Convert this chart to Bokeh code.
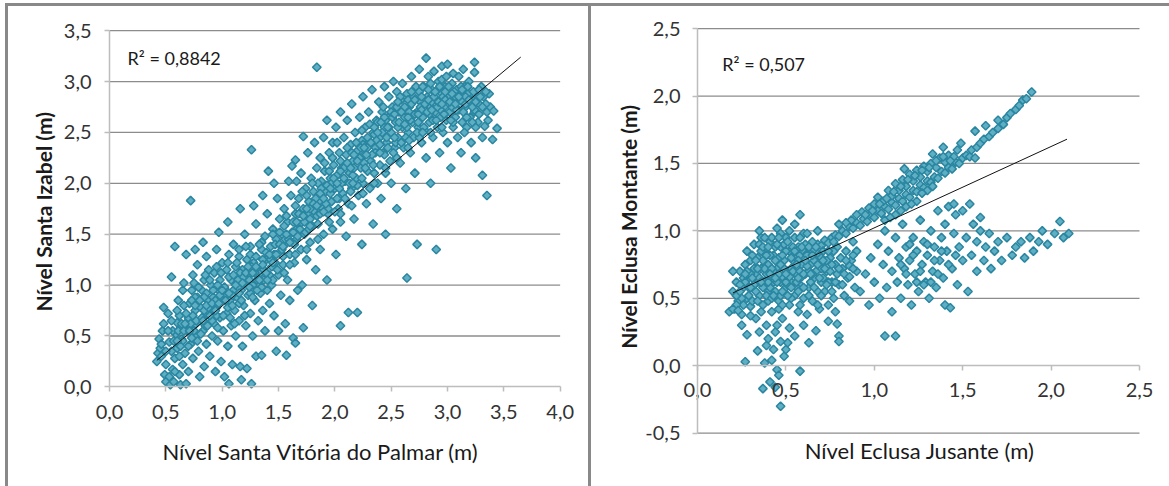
import numpy as np
from bokeh.plotting import figure
from bokeh.layouts import row
from bokeh.models import Label, CustomJSTickFormatter, FixedTicker, Range1d
from bokeh.embed import file_html
from bokeh.resources import INLINE

FONT = "Lato"

# ---------------- Left chart: Santa Vitória do Palmar (x) vs Santa Izabel (y)
left_xlabel = "Nível Santa Vitória do Palmar (m)"
left_ylabel = "Nível Santa Izabel (m)"
left_r2 = "R² = 0,8842"
left_xticks = [0.0, 0.5, 1.0, 1.5, 2.0, 2.5, 3.0, 3.5, 4.0]
left_yticks = [0.0, 0.5, 1.0, 1.5, 2.0, 2.5, 3.0, 3.5]
left_trend_x = [0.42, 3.65]
left_trend_y = [0.26, 3.24]
left_points = [
    (0.42,0.25),(0.43,0.33),(0.44,0.47),(0.45,0.38),(0.46,0.30),(0.47,0.55),(0.48,0.62),(0.49,0.12),
    (0.50,0.05),(0.50,0.22),(0.52,0.72),(0.53,0.44),(0.48,0.78),(0.55,1.08),(0.56,0.17),(0.54,0.02),(0.58,1.38),
    (0.57,0.05),(0.58,0.28),(0.59,0.52),(0.60,0.63),(0.60,0.38),(0.61,0.85),(0.62,0.12),(0.62,0.70),(0.63,0.02),
    (0.64,0.47),(0.65,0.95),(0.65,0.22),(0.66,1.02),(0.63,0.58),(0.67,0.33),(0.60,0.75),(0.68,1.30),
    (0.68,0.03),(0.69,0.55),(0.70,0.68),(0.70,0.15),(0.71,0.82),(0.72,0.42),(0.73,0.95),(0.74,0.28),(0.74,1.10),
    (0.75,0.60),(0.76,0.75),(0.77,0.50),(0.78,0.88),(0.78,1.20),(0.79,0.35),(0.80,0.65),(0.76,1.35),(0.80,0.10),(0.72,1.83),
    (0.81,0.78),(0.82,0.95),(0.83,0.55),(0.84,1.05),(0.84,0.20),(0.85,0.70),(0.86,0.42),(0.87,0.85),(0.88,1.15),
    (0.88,0.62),(0.89,0.30),(0.90,1.00),(0.86,1.28),(0.90,0.75),(0.83,1.42),(0.91,0.50),
    (0.92,0.88),(0.93,1.12),(0.93,0.62),(0.94,0.15),(0.95,0.78),(0.95,1.35),(0.96,0.45),(0.97,0.95),(0.98,1.05),
    (0.98,0.68),(0.99,0.25),(1.00,0.85),(1.00,1.22),(0.97,1.52),(1.01,0.55),(1.02,0.10),
    (1.03,0.95),(1.04,0.72),(1.04,1.15),(1.05,0.40),(1.06,1.30),(1.06,0.03),(1.07,0.85),(1.08,1.05),(1.08,0.60),
    (1.09,0.22),(1.10,0.95),(1.10,1.40),(1.11,0.75),(1.05,1.62),(1.12,0.50),(1.12,1.18),
    (1.13,0.88),(1.14,1.05),(1.15,0.65),(1.15,1.28),(1.16,0.20),(1.17,0.95),(1.17,0.07),(1.18,1.15),(1.18,0.40),
    (1.19,0.80),(1.20,1.02),(1.20,1.50),(1.21,0.60),(1.16,1.75),(1.22,1.25),(1.22,0.18),
    (1.23,0.90),(1.24,1.10),(1.25,0.72),(1.25,1.38),(1.26,0.03),(1.26,2.33),(1.27,0.50),(1.27,1.00),(1.28,1.22),
    (1.29,0.85),(1.30,1.60),(1.30,0.30),(1.31,1.05),(1.28,1.78),(1.32,0.65),
    (1.33,1.15),(1.34,0.92),(1.35,1.35),(1.35,0.31),(1.36,0.75),(1.37,1.05),(1.38,1.48),(1.38,0.55),(1.39,1.25),
    (1.40,0.95),(1.40,1.70),(1.41,2.12),(1.42,1.10),(1.42,0.82),(1.36,1.88),
    (1.43,1.38),(1.44,1.00),(1.45,1.55),(1.46,0.70),(1.47,1.22),(1.48,0.35),(1.48,1.45),(1.49,1.85),(1.50,1.10),
    (1.50,0.55),(1.51,1.65),(1.52,0.90),(1.46,2.00),(1.52,1.32),
    (1.53,1.50),(1.54,1.20),(1.55,1.75),(1.56,0.62),(1.56,1.40),(1.57,0.31),(1.58,1.05),(1.58,1.62),(1.59,2.02),
    (1.60,1.30),(1.60,0.85),(1.61,1.88),(1.62,2.17),(1.62,1.52),(1.63,0.48),
    (1.64,1.22),(1.65,2.23),(1.65,1.70),(1.65,0.43),(1.66,2.02),(1.66,1.45),(1.67,0.95),(1.68,1.85),(1.69,1.60),
    (1.70,1.35),(1.70,2.10),(1.71,1.00),(1.72,0.58),(1.72,2.46),(1.72,1.75),(1.73,1.50),
    (1.74,1.95),(1.75,1.25),(1.76,1.65),(1.76,2.30),(1.77,1.82),(1.78,1.42),(1.79,2.05),(1.80,1.58),(1.80,0.80),
    (1.81,1.92),(1.82,2.40),(1.82,1.72),(1.83,1.15),(1.84,3.14),(1.84,2.15),
    (1.85,1.60),(1.86,1.88),(1.87,2.25),(1.87,1.35),(1.88,2.02),(1.89,1.75),(1.90,2.45),(1.90,1.50),(1.91,2.12),
    (1.92,1.92),(1.93,1.05),(1.93,2.62),(1.94,1.70),(1.95,2.30),
    (1.96,2.05),(1.97,1.82),(1.98,2.40),(1.98,1.55),(1.99,2.18),(2.00,1.95),(2.01,2.55),(2.01,1.30),(2.02,2.08),
    (2.03,1.75),(2.04,2.30),(2.05,0.60),(2.05,2.70),(2.05,1.62),
    (2.06,2.15),(2.07,1.90),(2.08,2.45),(2.09,2.02),(2.10,1.48),(2.10,2.28),(2.11,2.62),(2.12,0.73),(2.12,1.80),
    (2.13,2.10),(2.14,2.38),(2.15,1.95),(2.15,2.78),
    (2.16,2.22),(2.17,1.65),(2.18,2.50),(2.19,2.05),(2.20,2.32),(2.20,0.73),(2.21,1.88),(2.22,2.65),(2.23,2.15),
    (2.24,1.40),(2.24,2.42),(2.25,2.00),(2.25,2.85),
    (2.26,2.28),(2.27,2.55),(2.28,1.80),(2.29,2.12),(2.30,2.70),(2.30,2.40),(2.31,1.95),(2.32,2.22),(2.33,2.92),
    (2.34,2.50),(2.34,1.60),(2.35,2.10),
    (2.36,2.35),(2.37,2.62),(2.38,2.00),(2.39,2.80),(2.40,2.45),(2.40,2.18),(2.41,1.85),(2.42,2.70),(2.43,2.30),
    (2.44,2.95),(2.44,2.55),(2.45,1.50),(2.45,2.10),
    (2.46,2.40),(2.47,2.65),(2.48,2.85),(2.49,2.22),(2.50,2.50),(2.50,2.00),(2.51,2.75),(2.52,3.00),(2.53,2.35),
    (2.54,2.60),(2.55,1.75),(2.55,2.90),
    (2.56,2.45),(2.57,2.70),(2.58,2.20),(2.59,2.82),(2.60,2.55),(2.60,2.98),(2.61,2.35),(2.62,2.65),(2.63,1.95),
    (2.64,1.07),(2.64,2.88),(2.65,2.50),
    (2.66,2.75),(2.67,2.30),(2.68,3.05),(2.69,2.60),(2.70,2.85),(2.70,2.45),(2.71,2.10),(2.72,2.95),(2.73,1.40),
    (2.73,2.70),(2.74,2.55),(2.75,3.12),
    (2.76,2.80),(2.77,2.40),(2.78,2.65),(2.79,2.95),(2.81,3.23),(2.80,2.52),(2.81,2.25),(2.82,2.85),(2.83,3.05),
    (2.84,2.60),(2.85,2.75),(2.85,2.00),
    (2.86,2.92),(2.87,2.45),(2.88,3.10),(2.89,2.70),(2.90,1.35),(2.90,2.82),(2.91,2.55),(2.92,3.00),(2.93,2.30),
    (2.94,2.65),(2.95,2.88),(2.95,3.15),
    (2.96,2.50),(2.97,2.75),(2.98,2.95),(2.99,2.62),(3.00,3.17),(3.00,2.40),(3.01,2.85),(3.02,2.70),(3.03,2.15),
    (3.04,2.98),(3.05,2.55),(3.05,3.08),
    (3.06,2.80),(3.07,2.65),(3.08,2.92),(3.09,2.45),(3.10,3.05),(3.10,2.72),(3.11,2.85),(3.12,2.30),(3.13,2.60),
    (3.14,3.12),(3.15,2.95),
    (3.16,2.75),(3.17,2.55),(3.18,2.88),(3.19,3.00),(3.20,2.65),(3.21,2.40),(3.22,2.82),(3.24,3.19),(3.24,3.09),
    (3.24,2.70),(3.25,2.25),
    (3.26,2.90),(3.27,2.60),(3.28,2.78),(3.30,2.95),(3.31,2.45),(3.32,2.85),(3.33,2.56),(3.35,1.88),(3.35,2.70),
    (3.37,2.88),(3.38,2.75),(3.41,2.71),(3.44,2.54),(3.40,2.43),(3.31,2.08),
    # dense core
    (0.55,0.35),(0.56,0.55),(0.65,0.45),(0.64,0.62),(0.66,0.80),(0.75,0.55),(0.74,0.70),(0.76,0.88),(0.75,1.02),
    (0.85,0.60),(0.84,0.75),(0.86,0.92),(0.85,1.10),(0.95,0.70),(0.94,0.85),(0.96,1.00),(0.95,1.18),
    (1.05,0.78),(1.04,0.90),(1.06,1.08),(1.05,1.22),(1.15,0.82),(1.14,0.98),(1.16,1.12),(1.15,1.35),
    (1.25,0.92),(1.24,1.05),(1.26,1.18),(1.25,1.30),(1.35,0.98),(1.34,1.12),(1.36,1.25),(1.35,1.42),
    (1.45,1.05),(1.44,1.18),(1.46,1.30),(1.45,1.50),(1.55,1.12),(1.54,1.28),(1.56,1.45),(1.55,1.58),
    (1.65,1.30),(1.64,1.40),(1.66,1.55),(1.65,1.78),(1.75,1.35),(1.74,1.52),(1.76,1.70),(1.75,1.88),
    (1.85,1.45),(1.84,1.68),(1.86,1.82),(1.85,2.00),(1.95,1.62),(1.94,1.75),(1.96,1.90),(1.95,2.12),
    (2.05,1.70),(2.04,1.85),(2.06,2.00),(2.05,2.22),(2.15,1.78),(2.14,1.92),(2.16,2.08),(2.15,2.30),
    (2.25,1.90),(2.24,2.05),(2.26,2.20),(2.25,2.38),(2.35,2.00),(2.34,2.18),(2.36,2.30),(2.35,2.48),
    (2.45,2.15),(2.44,2.28),(2.46,2.45),(2.45,2.62),(2.55,2.25),(2.54,2.40),(2.56,2.55),(2.55,2.75),
    (2.65,2.35),(2.64,2.55),(2.66,2.70),(2.65,2.82),(2.75,2.45),(2.74,2.60),(2.76,2.75),(2.75,2.90),
    (2.85,2.50),(2.84,2.68),(2.86,2.80),(2.85,2.98),(2.95,2.55),(2.94,2.72),(2.96,2.85),(2.95,3.02),
    (3.05,2.60),(3.04,2.75),(3.06,2.90),(3.15,2.50),(3.14,2.70),(3.16,2.85),(3.25,2.55),(3.24,2.72),(3.26,2.88),
    (0.46,0.42),(0.50,0.35),(0.52,0.55),(0.55,0.65),(0.57,0.45),(0.58,0.15),(0.53,0.10),(0.61,0.55),
    (0.62,0.30),(0.66,0.55),(0.68,0.72),(0.70,0.40),(0.72,0.62),(0.73,0.85),(0.77,0.65),(0.78,0.45),(0.79,0.98),
    (0.81,0.52),(0.82,0.68),(0.84,0.88),(0.87,0.60),(0.88,0.78),(0.89,1.05),(0.91,0.65),(0.92,0.95),(0.96,0.58),
    (0.98,0.90),(0.99,1.12),(1.01,0.70),(1.02,0.98),(1.07,0.68),(1.09,0.90),(1.10,1.10),(1.11,0.62),(1.13,1.22),
    (1.17,0.85),(1.19,1.08),(1.20,0.70),(1.21,1.38),(1.23,1.18),(1.27,0.88),(1.29,1.12),(1.30,1.28),(1.31,0.95),
    (1.33,1.40),(1.37,1.15),(1.39,1.32),(1.40,1.05),(1.43,1.25),(1.47,1.40),(1.49,1.15),(1.51,1.52),(1.53,1.35),
    (1.57,1.68),(1.59,1.45),(1.60,1.20),(1.63,1.62),(1.67,1.48),(1.68,1.70),(1.71,1.92),(1.73,1.62),(1.77,1.55),
    (1.78,1.75),(1.80,2.00),(1.83,1.85),(1.87,1.70),(1.88,1.95),(1.91,2.20),(1.92,1.80),(1.97,2.00),(1.98,2.25),
    (2.00,1.72),(2.02,2.40),(2.04,1.95),(2.08,2.15),(2.09,1.85),(2.11,2.35),(2.13,2.00),(2.17,2.15),(2.19,2.40),
    (2.20,1.98),(2.22,2.25),(2.24,2.52),(2.27,2.15),(2.29,2.35),(2.31,2.58),(2.33,2.28),(2.37,2.42),(2.38,2.60),
    (2.40,2.30),(2.42,2.50),(2.43,2.75),(2.47,2.35),(2.48,2.55),(2.51,2.65),(2.53,2.45),(2.57,2.60),(2.58,2.85),
    (2.59,2.40),(2.62,2.75),(2.63,2.45),(2.67,2.62),(2.68,2.90),(2.71,2.68),(2.73,2.50),(2.77,2.72),(2.78,2.95),
    (2.79,2.55),(2.82,2.70),(2.83,2.92),(2.87,2.62),(2.88,2.85),(2.91,2.75),(2.93,2.95),(2.97,2.68),(2.98,2.82),
    (2.99,3.05),(3.02,2.80),(3.03,2.62),(3.07,2.85),(3.08,2.72),(3.12,2.95),(3.13,2.80),(3.17,2.65),(3.18,2.95),
    (3.22,2.60),(3.23,2.90),(3.28,2.68),(3.29,2.85),(3.34,2.78),(3.36,2.62),
    (0.60,0.45),(0.63,0.40),(0.67,0.62),(0.71,0.55),(0.73,0.48),(0.76,0.80),(0.80,0.85),(0.83,0.65),(0.86,0.80),
    (0.89,0.70),(0.91,0.82),(0.94,0.75),(0.97,0.82),(1.00,0.95),(1.03,0.85),(1.06,0.92),(1.09,0.80),(1.12,1.00),
    (1.15,0.92),(1.18,1.02),(1.21,1.12),(1.24,0.98),(1.27,1.12),(1.30,1.18),(1.33,1.05),(1.36,1.20),(1.39,1.12),
    (1.42,1.30),(1.45,1.22),(1.48,1.30),(1.51,1.40),(1.54,1.38),(1.57,1.50),(1.60,1.42),(1.63,1.52),(1.66,1.62),
    (1.69,1.55),(1.72,1.68),(1.75,1.75),(1.78,1.65),(1.81,1.80),(1.84,1.78),(1.87,1.90),(1.90,1.85),(1.93,1.98),
    (1.96,1.95),(1.99,2.05),(2.02,2.00),(2.05,2.12),(2.08,2.05),(2.11,2.20),(2.14,2.15),(2.17,2.28),(2.20,2.22),
    (2.23,2.35),(2.26,2.35),(2.29,2.45),(2.32,2.40),(2.35,2.55),(2.38,2.50),(2.41,2.60),(2.44,2.65),(2.47,2.55),
    (2.50,2.70),(2.53,2.68),(2.56,2.80),(2.59,2.70),(2.62,2.58),(2.65,2.65),(2.68,2.78),(2.71,2.82),(2.74,2.68),
    (2.77,2.85),(2.80,2.78),(2.83,2.82),(2.86,2.72),(2.89,2.90),(2.92,2.80),(2.95,2.78),(2.98,2.90),(3.01,2.95),
    (3.04,2.88),(3.07,2.78),(3.10,2.85),(3.13,2.92),(3.16,2.78),(3.19,2.82),(3.22,2.75),(3.25,2.80),(3.28,2.92),
    (3.31,2.75),(3.34,2.90),(2.90,2.62),(2.78,2.50),(2.66,2.42),(2.52,2.30),(2.40,2.38),(2.28,2.28),(2.16,2.00),
    (2.02,1.85),(1.90,1.72),(1.78,1.58),
]
left_x = [pt[0] for pt in left_points]
left_y = [pt[1] for pt in left_points]

# ---------------- Right chart: Eclusa Jusante (x) vs Eclusa Montante (y)
right_xlabel = "Nível Eclusa Jusante (m)"
right_ylabel = "Nível Eclusa Montante (m)"
right_r2 = "R² = 0,507"
right_xticks = [0.0, 0.5, 1.0, 1.5, 2.0, 2.5]
right_yticks = [-0.5, 0.0, 0.5, 1.0, 1.5, 2.0, 2.5]
right_trend_x = [0.20, 2.09]
right_trend_y = [0.54, 1.68]
right_points = [
    # upper tight band
    (0.55,0.80),(0.58,0.82),(0.60,0.85),(0.62,0.83),(0.64,0.88),(0.66,0.86),(0.68,0.90),(0.70,0.89),(0.72,0.93),
    (0.74,0.91),(0.76,0.95),(0.78,0.97),(0.80,0.96),(0.82,1.00),(0.84,0.98),(0.86,1.03),(0.88,1.02),(0.90,1.06),
    (0.92,1.04),(0.94,1.09),(0.96,1.07),(0.98,1.12),(1.00,1.10),(1.02,1.15),(1.04,1.13),(1.06,1.18),(1.08,1.16),
    (1.10,1.21),(1.12,1.19),(1.14,1.24),(1.16,1.22),(1.17,1.46),(1.18,1.27),(1.20,1.25),(1.22,1.30),(1.24,1.29),
    (1.26,1.34),(1.28,1.32),(1.30,1.37),(1.32,1.36),(1.33,1.57),(1.34,1.40),(1.36,1.39),(1.38,1.44),(1.39,1.62),
    (1.40,1.43),(1.42,1.47),(1.44,1.46),(1.46,1.51),(1.48,1.50),(1.49,1.65),(1.50,1.54),(1.52,1.56),(1.54,1.55),
    (1.55,1.60),(1.57,1.54),(1.57,1.74),(1.58,1.62),(1.60,1.65),(1.63,1.78),(1.62,1.68),(1.65,1.70),(1.67,1.73),
    (1.70,1.82),(1.70,1.76),(1.73,1.79),(1.75,1.84),(1.77,1.87),(1.80,1.90),(1.82,1.93),(1.84,1.97),(1.86,1.98),
    (1.89,2.03),
    (1.05,1.22),(1.08,1.30),(1.10,1.26),(1.12,1.35),(1.14,1.30),(1.16,1.38),(1.18,1.33),(1.20,1.42),(1.22,1.37),
    (1.24,1.45),(1.26,1.40),(1.28,1.48),(1.30,1.44),(1.32,1.50),(1.35,1.47),(1.37,1.54),(1.40,1.51),(1.42,1.56),
    (1.45,1.55),(1.47,1.60),(1.00,1.20),(1.02,1.25),(0.97,1.17),(0.93,1.14),(0.90,1.12),(0.87,1.08),(0.84,1.06),
    (1.06,1.08),(1.12,1.12),(1.18,1.18),(1.24,1.22),(1.30,1.30),(1.15,1.15),
    (0.95,1.12),(0.99,1.15),(1.03,1.20),(1.07,1.24),(1.11,1.29),(1.15,1.33),(1.19,1.38),(1.23,1.41),(1.27,1.45),
    (1.31,1.47),(1.35,1.52),(1.39,1.55),(1.43,1.52),(1.09,1.10),(1.21,1.20),(1.27,1.28),(1.33,1.33),
    # left dense cluster
    (0.20,0.55),(0.21,0.42),(0.22,0.62),(0.23,0.48),(0.24,0.70),(0.25,0.38),(0.26,0.58),(0.27,0.75),(0.28,0.50),
    (0.28,0.85),(0.29,0.65),(0.30,0.44),(0.30,0.78),(0.18,0.40),(0.20,0.70),
    (0.31,0.58),(0.32,0.90),(0.33,0.68),(0.33,0.35),(0.34,0.80),(0.35,0.52),(0.36,0.72),(0.36,0.95),(0.37,0.45),
    (0.38,0.62),(0.38,0.85),(0.39,0.30),(0.40,0.75),(0.40,0.55),(0.35,1.00),
    (0.41,0.92),(0.42,0.65),(0.42,0.40),(0.43,0.82),(0.44,0.55),(0.45,0.72),(0.45,1.02),(0.46,0.48),(0.47,0.88),
    (0.47,0.62),(0.48,0.35),(0.49,0.78),(0.50,0.58),(0.50,0.95),(0.44,0.25),(0.48,1.08),
    (0.51,0.70),(0.52,0.85),(0.52,0.45),(0.53,0.62),(0.54,0.78),(0.55,0.52),(0.55,0.95),(0.56,0.68),(0.57,0.40),
    (0.57,0.88),(0.58,0.60),(0.58,1.12),(0.59,0.75),(0.60,0.50),(0.60,0.98),
    (0.61,0.68),(0.62,0.82),(0.62,0.38),(0.63,0.58),(0.64,0.75),(0.65,0.48),(0.65,0.92),(0.66,0.65),(0.67,0.80),
    (0.68,0.55),(0.68,1.00),(0.69,0.42),(0.70,0.72),(0.70,0.62),
    (0.71,0.85),(0.72,0.55),(0.73,0.70),(0.74,0.45),(0.75,0.80),(0.76,0.62),(0.77,0.50),(0.78,0.75),(0.78,0.40),
    (0.79,0.88),(0.80,0.60),(0.80,1.05),
    (0.82,0.72),(0.83,0.52),(0.84,0.85),(0.85,0.65),(0.86,0.48),(0.87,0.78),(0.88,0.92),(0.89,0.58),(0.90,0.70),
    (0.90,0.85),
    (0.32,0.72),(0.34,0.62),(0.37,0.78),(0.39,0.68),(0.41,0.58),(0.43,0.70),(0.44,0.88),(0.46,0.80),(0.48,0.66),
    (0.49,0.90),(0.51,0.60),(0.53,0.72),(0.54,0.88),(0.56,0.58),(0.57,0.78),(0.59,0.66),(0.61,0.90),(0.63,0.70),
    (0.64,0.62),(0.66,0.78),(0.67,0.70),(0.69,0.82),(0.71,0.65),(0.73,0.78),(0.75,0.70),(0.77,0.85),(0.79,0.68),
    (0.81,0.80),(0.83,0.68),(0.86,0.74),(0.88,0.82),(0.36,0.85),(0.42,0.95),(0.47,0.98),(0.52,1.00),(0.29,0.58),
    (0.26,0.65),(0.31,0.48),(0.40,0.48),(0.46,0.42),(0.53,0.50),(0.58,0.45),(0.63,0.52),(0.70,0.52),(0.76,0.55),
    (0.25,0.50),(0.27,0.62),(0.30,0.68),(0.31,0.82),(0.33,0.55),(0.35,0.65),(0.35,0.90),(0.38,0.72),(0.39,0.52),
    (0.41,0.82),(0.43,0.62),(0.44,0.78),(0.46,0.68),(0.47,0.52),(0.49,0.72),(0.50,0.85),(0.51,0.52),(0.52,0.66),
    (0.54,0.70),(0.55,0.85),(0.56,0.62),(0.58,0.70),(0.59,0.88),(0.60,0.58),(0.62,0.74),(0.63,0.88),(0.65,0.68),
    (0.66,0.58),(0.67,0.88),(0.69,0.65),(0.70,0.80),(0.72,0.72),(0.74,0.62),(0.76,0.75),(0.77,0.92),(0.78,0.62),
    (0.80,0.72),(0.82,0.60),(0.84,0.78),(0.86,0.66),(0.88,0.72),(0.38,0.95),(0.45,0.90),(0.55,1.05),(0.62,0.98),
    (0.32,0.60),(0.28,0.70),(0.24,0.60),(0.22,0.52),(0.42,0.50),(0.48,0.45),(0.36,0.40),(0.57,0.55),(0.68,0.45),
    (0.73,0.60),
    (0.26,0.45),(0.29,0.52),(0.31,0.65),(0.34,0.72),(0.34,0.48),(0.37,0.58),(0.37,0.88),(0.40,0.62),(0.40,0.88),
    (0.42,0.72),(0.43,0.52),(0.45,0.62),(0.46,0.95),(0.48,0.55),(0.48,0.82),(0.50,0.68),(0.51,0.92),(0.53,0.58),
    (0.53,0.80),(0.56,0.75),(0.57,0.65),(0.58,0.95),(0.60,0.68),(0.61,0.78),(0.64,0.68),(0.65,0.82),(0.68,0.75),
    (0.71,0.78),(0.74,0.85),(0.22,0.45),(0.24,0.55),(0.27,0.68),(0.30,0.58),(0.33,0.78),(0.36,0.62),(0.39,0.82),
    (0.41,0.68),(0.44,0.65),(0.47,0.75),(0.50,0.62),
    # low tail
    (0.20,0.42),(0.23,0.41),(0.25,0.30),(0.28,0.23),(0.30,0.37),(0.27,0.03),(0.34,0.11),(0.38,0.02),(0.39,0.15),
    (0.42,0.04),(0.45,-0.03),(0.46,-0.07),(0.37,-0.17),(0.41,-0.12),(0.44,-0.16),(0.47,-0.30),(0.49,0.07),
    (0.50,0.12),(0.51,0.17),(0.58,-0.04),(0.63,0.17),(0.67,0.26),(0.74,0.33),(0.79,0.31),(0.80,0.22),(0.80,0.18),
    (0.35,0.25),(0.40,0.20),(0.45,0.30),(0.52,0.28),(0.55,0.22),(0.60,0.30),(0.43,0.12),(0.47,0.18),
    # lower right cluster
    (0.92,0.55),(0.95,0.68),(0.97,0.45),(0.98,0.80),(1.00,0.62),(1.02,0.90),(1.03,0.50),(1.06,0.22),(1.05,0.75),
    (1.06,1.00),(1.07,0.58),(1.08,0.85),(1.10,0.40),(1.10,0.70),(1.12,0.22),(1.12,0.95),(1.13,0.62),(1.14,0.80),
    (1.15,0.50),(1.16,1.05),(1.17,0.72),(1.18,0.88),(1.19,0.60),(1.20,0.78),(1.21,0.45),(1.22,0.95),(1.23,0.68),
    (1.24,0.85),(1.25,0.55),(1.26,1.08),(1.27,0.75),(1.28,0.92),(1.29,0.62),(1.30,0.82),(1.31,0.50),(1.32,1.00),
    (1.33,0.70),(1.34,0.88),(1.35,0.58),(1.36,1.15),(1.37,0.78),(1.38,0.95),(1.39,0.65),(1.40,1.05),(1.40,0.45),
    (1.41,0.85),(1.42,1.18),(1.43,0.43),(1.44,0.72),(1.45,0.98),(1.46,1.12),(1.47,0.60),(1.48,0.88),(1.50,1.15),
    (1.50,0.78),(1.52,0.95),(1.53,0.55),(1.54,1.20),(1.55,0.82),(1.56,1.05),(1.58,0.70),(1.58,0.92),(1.60,1.00),
    (1.62,0.78),(1.63,0.88),(1.65,0.98),(1.66,0.72),(1.68,0.85),(1.70,0.92),(1.72,0.78),(1.75,0.95),(1.78,0.82),
    (1.80,0.88),(1.83,0.92),(1.85,0.80),(1.88,0.95),(1.90,0.85),(1.93,0.92),(1.95,1.00),(1.98,0.90),(2.02,0.98),
    (2.05,1.07),(2.07,0.95),(2.10,0.98),(1.60,1.10),(1.45,1.20),
    (1.18,0.68),(1.22,0.82),(1.26,0.70),(1.30,0.90),(1.34,0.78),(1.28,0.60),(1.36,0.68),(1.24,0.62),(1.32,0.62),
    (1.38,0.85),(1.20,0.90),(1.15,0.75),(1.42,0.75),(1.46,0.82),
]
right_x = [pt[0] for pt in right_points]
right_y = [pt[1] for pt in right_points]

# ---------------- styling
MARKER_LINE = "#2a86a0"
MARKER_FILL = "#5eafc3"
GRID = "#8c8c8c"
AXIS = "#bdbdbd"
TICK_TXT = "#333333"
TITLE_TXT = "#1a1a1a"
BORDER = "3px solid #898989"
fmt_code = "return tick.toFixed(1).replace('.', ',');"


def style_axis(ax, ticks, bounds, tick_standoff):
    ax.ticker = FixedTicker(ticks=ticks)
    ax.formatter = CustomJSTickFormatter(code=fmt_code)
    ax.fixed_location = 0
    ax.bounds = bounds
    ax.axis_line_color = AXIS
    ax.axis_line_width = 1.5
    ax.major_tick_line_color = AXIS
    ax.major_tick_line_width = 1.5
    ax.major_tick_in = 0
    ax.major_tick_out = 5
    ax.minor_tick_line_color = None
    ax.major_label_text_font = FONT
    ax.major_label_text_font_size = "20px"
    ax.major_label_text_color = TICK_TXT
    ax.major_label_standoff = tick_standoff


def make_fig(w, h, xr, yr, margin, styles):
    # the frame fills the whole canvas; axes cross at zero inside it
    p = figure(width=w, height=h, x_range=Range1d(*xr), y_range=Range1d(*yr),
               output_backend="svg", toolbar_location=None, title=None,
               min_border_left=0, min_border_right=0, min_border_top=0, min_border_bottom=0,
               margin=margin, styles=styles)
    p.outline_line_color = None
    p.background_fill_color = "white"
    p.border_fill_color = "white"
    p.xgrid.grid_line_color = None
    p.ygrid.grid_line_color = None
    return p


def add_grid(p, xticks, yticks):
    gy = [t for t in yticks if t != 0]
    p.segment(x0=[xticks[0]] * len(gy), x1=[xticks[-1]] * len(gy), y0=gy, y1=gy,
              line_color=GRID, line_width=1.3)


def title_label(x, y, text, bold, angle=0.0):
    return Label(x=x, y=y, text=text, angle=angle, text_font=FONT,
                 text_font_size="21px" if bold else "22px",
                 text_font_style="bold" if bold else "normal", text_color=TITLE_TXT,
                 text_align="center", text_baseline="middle")


def r2_label(x, y, text):
    return Label(x=x, y=y, text=text, text_font=FONT, text_font_size="18px",
                 text_color=TITLE_TXT, text_baseline="middle", text_align="left")


# ---------------- left figure
pl = make_fig(586, 483, (-0.8969, 4.3049), (-1.0085, 3.7374), (3, 0, 0, 5),
              {"border-left": BORDER, "border-top": BORDER, "border-right": BORDER})
add_grid(pl, left_xticks, left_yticks)
style_axis(pl.xaxis[0], left_xticks, (0, 4), 13)
style_axis(pl.yaxis[0], left_yticks, (0, 3.5), 13)
pl.scatter(left_x, left_y, marker="square", size=6, angle=np.pi / 4,
           line_color=MARKER_LINE, fill_color=MARKER_FILL, line_width=1.5)
pl.line(left_trend_x, left_trend_y, line_color="#111111", line_width=1)
pl.add_layout(r2_label(0.16, 3.23, left_r2))
pl.add_layout(title_label(1.874, -0.633, left_xlabel, False))
pl.add_layout(title_label(-0.583, 1.72, left_ylabel, True, np.pi / 2))

# ---------------- right figure
pr = make_fig(578, 483, (-0.5995, 2.6697), (-0.918, 2.6642), (3, 0, 0, 0), {"border-top": BORDER})
add_grid(pr, right_xticks, right_yticks)
style_axis(pr.xaxis[0], right_xticks, (0, 2.5), 12)
style_axis(pr.yaxis[0], right_yticks, (-0.5, 2.5), 12)
pr.scatter(right_x, right_y, marker="square", size=6, angle=np.pi / 4,
           line_color=MARKER_LINE, fill_color=MARKER_FILL, line_width=1.5)
pr.line(right_trend_x, right_trend_y, line_color="#111111", line_width=1)
pr.add_layout(r2_label(0.14, 2.24, right_r2))
pr.add_layout(title_label(1.256, -0.627, right_xlabel, False))
pr.add_layout(title_label(-0.39, 1.03, right_ylabel, True, np.pi / 2))

layout = row(pl, pr)
open("out.html", "w").write(file_html(layout, INLINE))
